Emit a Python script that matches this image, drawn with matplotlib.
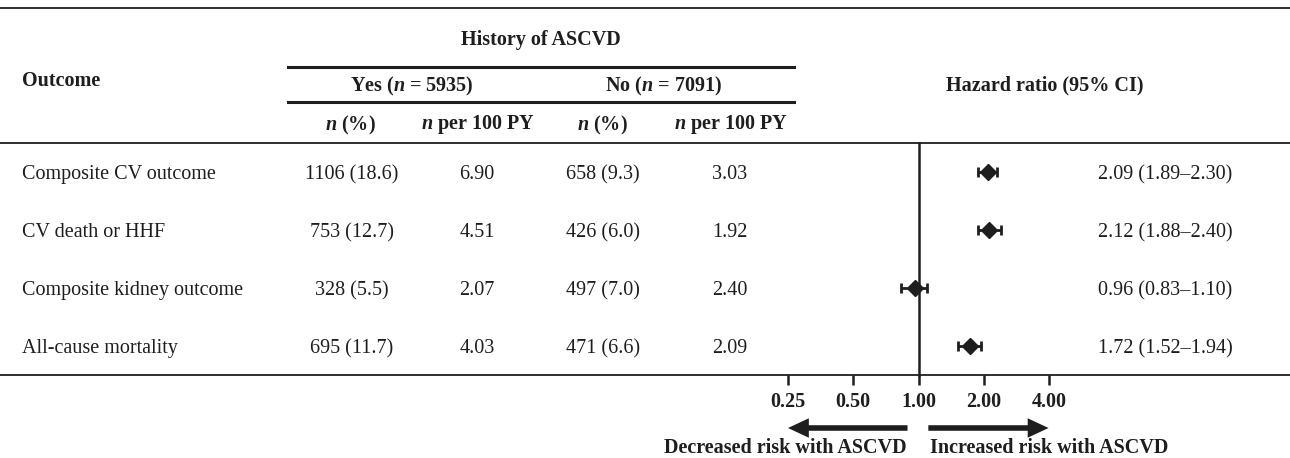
import matplotlib
matplotlib.use('Agg')
import matplotlib.pyplot as plt
import matplotlib.transforms as mtransforms
from matplotlib.lines import Line2D

# fonts: Times-like serif, bold italic n in headers via mathtext
plt.rcParams['font.family'] = ['Liberation Serif', 'DejaVu Serif']
plt.rcParams['mathtext.fontset'] = 'custom'
plt.rcParams['mathtext.rm'] = 'Liberation Serif:bold'
plt.rcParams['mathtext.it'] = 'Liberation Serif:bold:italic'
plt.rcParams['mathtext.bf'] = 'Liberation Serif:bold'

# data
outcomes = ['Composite CV outcome', 'CV death or HHF', 'Composite kidney outcome', 'All-cause mortality']
yes_n = ['1106 (18.6)', '753 (12.7)', '328 (5.5)', '695 (11.7)']
yes_rate = ['6.90', '4.51', '2.07', '4.03']
no_n = ['658 (9.3)', '426 (6.0)', '497 (7.0)', '471 (6.6)']
no_rate = ['3.03', '1.92', '2.40', '2.09']
hr = [2.09, 2.12, 0.96, 1.72]
hr_lo = [1.89, 1.88, 0.83, 1.52]
hr_hi = [2.30, 2.40, 1.10, 1.94]
ticks = [0.25, 0.5, 1.0, 2.0, 4.0]
tick_labels = ['0.25', '0.50', '1.00', '2.00', '4.00']

W, H = 1290, 458
fig = plt.figure(figsize=(W / 100, H / 100), dpi=100)
ink = '#1e1e1e'

def fx(px):
    return px / W

def fy(py):
    return 1 - py / H

fs = 14.5

# forest plot axes
ax = fig.add_axes([fx(788), fy(375), fx(1049 - 788), (375 - 143) / H])
ax.set_xscale('log', base=2)
ax.set_xlim(0.25, 4)
ax.set_ylim(len(hr), 0)
rows = [i + 0.5 for i in range(len(hr))]
for s in ax.spines.values():
    s.set_visible(False)
ax.set_yticks([])
ax.set_xticks(ticks)
ax.set_xticklabels(tick_labels, fontweight='bold', fontsize=fs)
ax.minorticks_off()
ax.tick_params(axis='x', direction='out', length=7, width=1.8, pad=5, color=ink, labelcolor=ink)
ax.patch.set_alpha(0)

ax.plot([1, 1], [0, len(hr)], color=ink, lw=1.8, clip_on=False)
err = [[h - l for h, l in zip(hr, hr_lo)], [u - h for h, u in zip(hr, hr_hi)]]
ax.errorbar(hr, rows, xerr=err, fmt='D', color=ink, ms=8.5, elinewidth=2.0,
            capsize=3.5, capthick=2.0, clip_on=False)

# arrows below the axis
trans_arr = mtransforms.blended_transform_factory(ax.transData, ax.transAxes)
arrow_y = -(428 - 375) / (375 - 143)
arrow_style = dict(arrowstyle='simple,head_length=0.75,head_width=0.7,tail_width=0.2',
                   mutation_scale=20, lw=0, color=ink, shrinkA=0, shrinkB=0)
ax.annotate('', xy=(0.25, arrow_y), xytext=(0.89, arrow_y), xycoords=trans_arr,
            arrowprops=arrow_style, annotation_clip=False)
ax.annotate('', xy=(3.98, arrow_y), xytext=(1.11, arrow_y), xycoords=trans_arr,
            arrowprops=arrow_style, annotation_clip=False)
fig.text(fx(907), fy(448), 'Decreased risk with ASCVD', ha='right', va='center', fontsize=fs,
         fontweight='bold', color=ink)
fig.text(fx(930), fy(448), 'Increased risk with ASCVD', ha='left', va='center', fontsize=fs,
         fontweight='bold', color=ink)

# horizontal rules
def hline(y, x0, x1, lw):
    fig.add_artist(Line2D([fx(x0), fx(x1)], [fy(y), fy(y)], color=ink, lw=lw,
                          transform=fig.transFigure))

hline(8, 0, W, 1.3)
hline(67, 288, 794, 2.2)
hline(102, 288, 794, 2.2)
hline(143, 0, W, 1.3)
hline(375, 0, W, 1.3)

# headers
hdr = dict(va='center', fontsize=fs, fontweight='bold', color=ink)
fig.text(fx(541), fy(40), 'History of ASCVD', ha='center', **hdr)
fig.text(fx(22), fy(81), 'Outcome', ha='left', **hdr)
fig.text(fx(412), fy(86), 'Yes ($n$ = 5935)', ha='center', **hdr)
fig.text(fx(664), fy(86), 'No ($n$ = 7091)', ha='center', **hdr)
fig.text(fx(1045), fy(85), 'Hazard ratio (95% CI)', ha='center', **hdr)
for x, lab in zip([350, 478, 602, 731], ['$n$ (%)', '$n$ per 100 PY', '$n$ (%)', '$n$ per 100 PY']):
    fig.text(fx(x), fy(125), lab, ha='center', **hdr)

# table rows
trans_row = mtransforms.blended_transform_factory(fig.transFigure, ax.transData)
cell = dict(va='center_baseline', fontsize=fs, color=ink, transform=trans_row)
for i, r in enumerate(rows):
    fig.text(fx(22), r, outcomes[i], ha='left', **cell)
    fig.text(fx(352), r, yes_n[i], ha='center', **cell)
    fig.text(fx(477), r, yes_rate[i], ha='center', **cell)
    fig.text(fx(603), r, no_n[i], ha='center', **cell)
    fig.text(fx(730), r, no_rate[i], ha='center', **cell)
    fig.text(fx(1098), r, f'{hr[i]:.2f} ({hr_lo[i]:.2f}\u2013{hr_hi[i]:.2f})', ha='left', **cell)

fig.savefig('out.png', dpi=100)
